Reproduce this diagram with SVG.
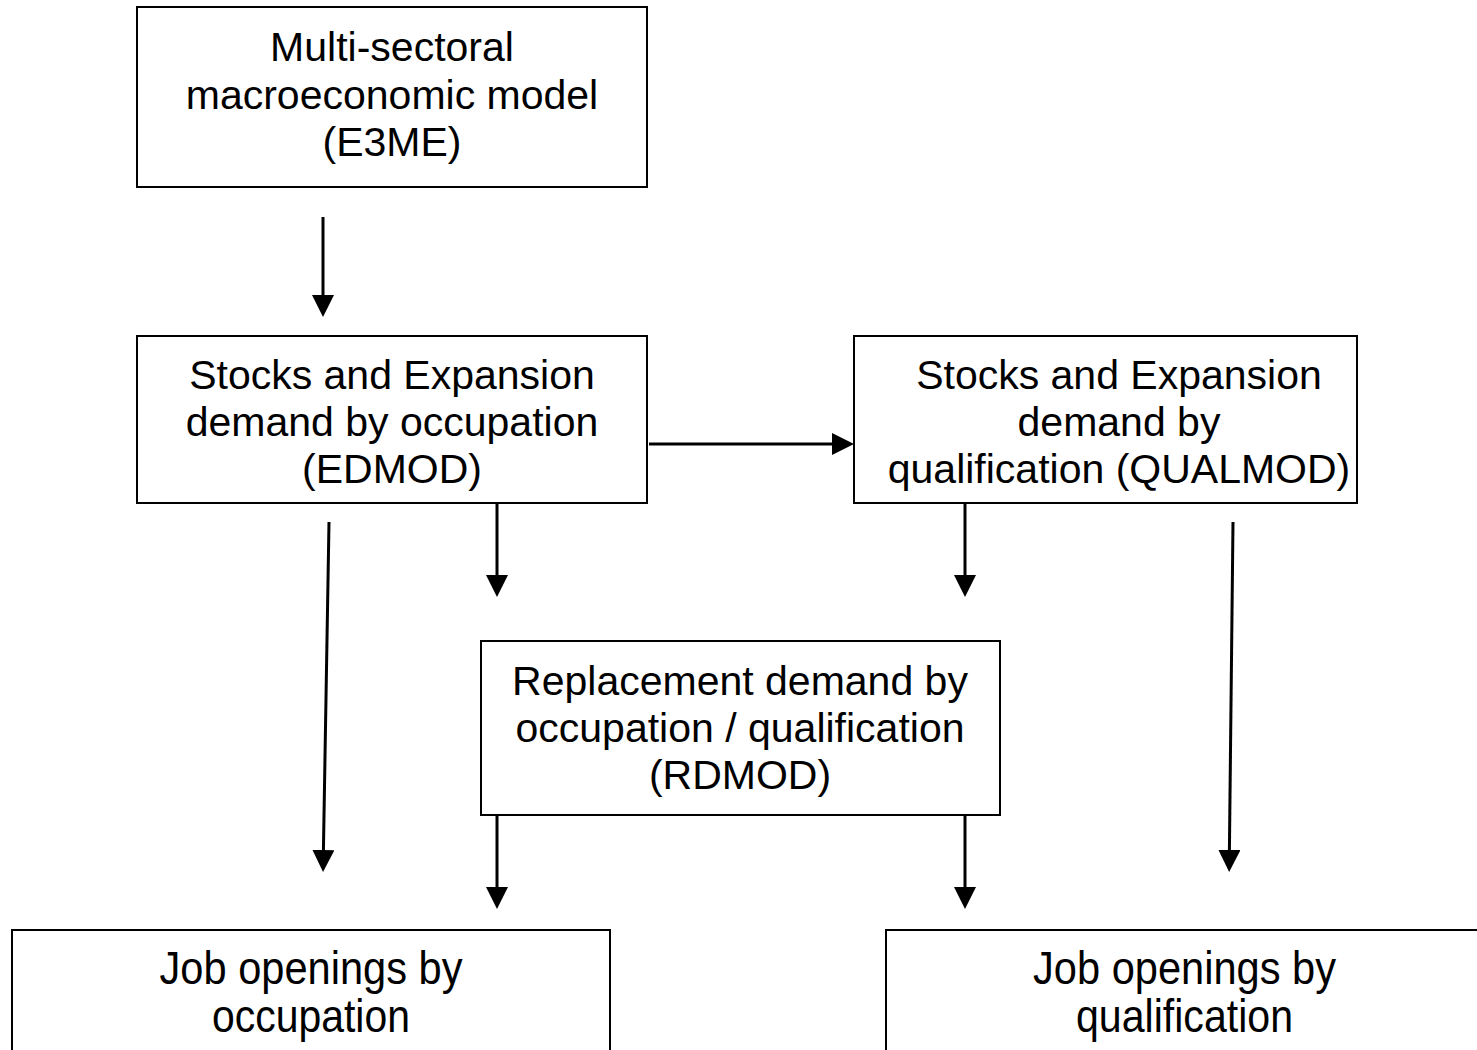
<svg xmlns="http://www.w3.org/2000/svg" width="1477" height="1050" viewBox="0 0 1477 1050">
<style>
.box{fill:#fff;stroke:#000;stroke-width:2}
.t{font-family:"Liberation Sans",Arial,sans-serif;font-size:41px;fill:#000;text-anchor:middle}
.tb{font-family:"Liberation Sans",Arial,sans-serif;font-size:46px;fill:#000;text-anchor:middle}
.c{stroke:#000;stroke-width:3;fill:none;marker-end:url(#ah)}
</style>
<defs>
<marker id="ah" markerUnits="userSpaceOnUse" markerWidth="22" markerHeight="22" refX="1" refY="11" orient="auto" viewBox="0 0 22 22">
<path d="M0,0 L22,11 L0,22 Z" fill="#000"/>
</marker>
</defs>
<rect width="1477" height="1050" fill="#fff"/>
<g id="e3me">
<rect class="box" x="137" y="7" width="510" height="180"/>
<text class="t" x="392" y="61">Multi-sectoral</text>
<text class="t" x="392" y="109">macroeconomic model</text>
<text class="t" x="392" y="156">(E3ME)</text>
</g>
<g id="edmod">
<rect class="box" x="137" y="336" width="510" height="167"/>
<text class="t" x="392" y="389">Stocks and Expansion</text>
<text class="t" x="392" y="436">demand by occupation</text>
<text class="t" x="392" y="483">(EDMOD)</text>
</g>
<g id="qualmod">
<rect class="box" x="854" y="336" width="503" height="167"/>
<text class="t" x="1119" y="389">Stocks and Expansion</text>
<text class="t" x="1119" y="436">demand by</text>
<text class="t" x="1119" y="483">qualification (QUALMOD)</text>
</g>
<g id="rdmod">
<rect class="box" x="481" y="641" width="519" height="174"/>
<text class="t" x="740" y="695">Replacement demand by</text>
<text class="t" x="740" y="742">occupation / qualification</text>
<text class="t" x="740" y="789">(RDMOD)</text>
</g>
<g id="jobs-occ">
<rect class="box" x="12" y="930" width="598" height="130"/>
<text class="tb" x="311" y="984" textLength="303" lengthAdjust="spacingAndGlyphs">Job openings by</text>
<text class="tb" x="311" y="1032" textLength="198" lengthAdjust="spacingAndGlyphs">occupation</text>
</g>
<g id="jobs-qual">
<rect class="box" x="886" y="930" width="598" height="130"/>
<text class="tb" x="1184.5" y="984" textLength="303" lengthAdjust="spacingAndGlyphs">Job openings by</text>
<text class="tb" x="1184.5" y="1032" textLength="217" lengthAdjust="spacingAndGlyphs">qualification</text>
</g>
<g id="connectors">
<line class="c" x1="323" y1="217" x2="323" y2="296"/>
<line class="c" x1="649" y1="444" x2="833" y2="444"/>
<line class="c" x1="329" y1="522" x2="323.4" y2="851"/>
<line class="c" x1="497" y1="503" x2="497" y2="576"/>
<line class="c" x1="965" y1="503" x2="965" y2="576"/>
<line class="c" x1="1233" y1="522" x2="1229.4" y2="851"/>
<line class="c" x1="497" y1="815" x2="497" y2="888"/>
<line class="c" x1="965" y1="815" x2="965" y2="888"/>
</g>
</svg>
